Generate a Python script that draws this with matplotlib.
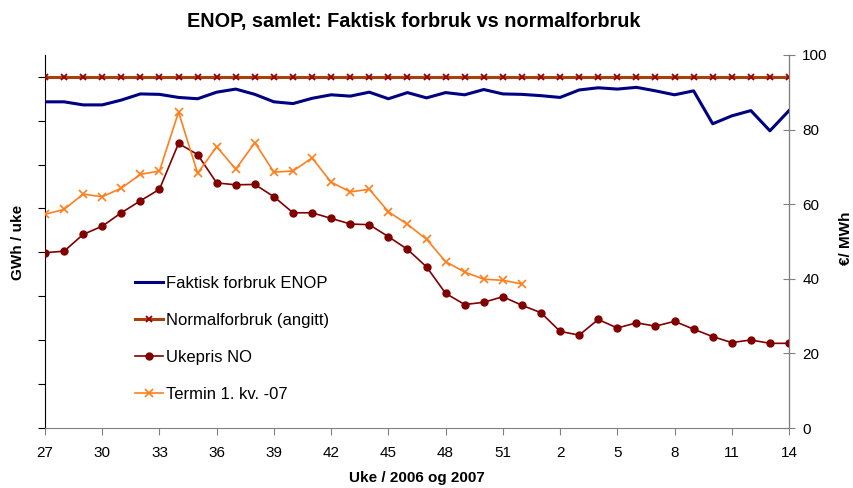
import matplotlib
matplotlib.use("Agg")
import matplotlib.pyplot as plt
from matplotlib.ticker import FixedLocator, NullFormatter

plt.rcParams['font.family'] = ['Liberation Sans', 'DejaVu Sans']

weeks = list(range(27, 53)) + list(range(1, 15))
tick_labels = ['27', '30', '33', '36', '39', '42', '45', '48', '51', '2', '5', '8', '11', '14']

faktisk = [7.43, 7.43, 7.36, 7.36, 7.47, 7.61, 7.60, 7.53, 7.50, 7.65,
           7.72, 7.60, 7.43, 7.39, 7.51, 7.59, 7.56, 7.65, 7.50, 7.64,
           7.52, 7.64, 7.59, 7.71, 7.61, 7.60, 7.57, 7.53, 7.70, 7.75,
           7.72, 7.76, 7.68, 7.59, 7.68, 6.93, 7.11, 7.23, 6.77, 7.23]
normal = [8.0] * 40
ukepris = [47.0, 47.4, 51.9, 54.1, 57.7, 60.9, 64.0, 76.3, 73.3, 65.7,
           65.2, 65.3, 62.0, 57.7, 57.7, 56.2, 54.7, 54.5, 51.3, 47.9,
           43.2, 36.1, 33.1, 33.7, 35.2, 32.9, 30.9, 25.9, 24.9, 29.1,
           26.8, 28.2, 27.3, 28.6, 26.5, 24.5, 22.9, 23.6, 22.7, 22.7]
termin = [57.3, 58.6, 62.7, 62.0, 64.3, 68.0, 68.9, 84.7, 68.3, 75.4,
          69.4, 76.5, 68.6, 68.9, 72.4, 65.9, 63.3, 64.0, 58.0, 54.6,
          50.6, 44.6, 41.8, 39.9, 39.6, 38.6]

x = list(range(len(weeks)))
xt = list(range(len(termin)))

fig = plt.figure(figsize=(8.54, 4.88), dpi=100)
ax = fig.add_axes([45/854, 1-428/488, (789-45)/854, (428-55)/488])
ax2 = ax.twinx()

l1, = ax.plot(x, faktisk, color='#000080', lw=2.2, label='Faktisk forbruk ENOP', zorder=3)
l2, = ax.plot(x, normal, color='#A8400E', lw=2.2, marker='x', ms=4.8, mew=1.3,
              mec='#990000', label='Normalforbruk (angitt)', zorder=3)
l3, = ax2.plot(x, ukepris, color='#800000', lw=1.2, marker='o', ms=5,
               mfc='#800000', mec='#800000', label='Ukepris NO')
l4, = ax2.plot(xt, termin, color='#FF7F1E', lw=1.2, marker='x', ms=5.5, mew=1.2,
               label='Termin 1. kv. -07')

ax.set_xlim(0, len(weeks) - 1)
ax.set_ylim(0, 373/43.9)
ax2.set_ylim(0, 100)

tick_pos = [weeks.index(int(t)) if int(t) >= 27 else 26 + int(t) - 1 for t in tick_labels]
ax.set_xticks(tick_pos)
ax.set_xticklabels(tick_labels, fontsize=11)
ax.yaxis.set_major_locator(FixedLocator(list(range(0, 9))))
ax.yaxis.set_major_formatter(NullFormatter())
ax2.set_yticks([0, 20, 40, 60, 80, 100])
ax2.set_yticklabels(['0', '20', '40', '60', '80', '100'], fontsize=11)

for a in (ax, ax2):
    a.spines['top'].set_visible(False)
ax.spines['left'].set_color('black')
ax.spines['bottom'].set_color('#808080')
ax2.spines['right'].set_color('#808080')
ax2.spines['left'].set_visible(False)
ax2.spines['bottom'].set_visible(False)
ax.tick_params(axis='y', direction='out', length=5, color='black')
ax.tick_params(axis='x', direction='out', length=5, color='#808080', pad=8)
ax2.tick_params(axis='y', direction='inout', length=9, color='#808080', pad=5)

fig.text(18/854, 1-242/488, 'GWh / uke', rotation=90, ha='center', va='center',
         fontsize=11, fontweight='bold')
fig.text(846/854, 1-238/488, '€/ MWh', rotation=90, ha='center', va='center',
         fontsize=11, fontweight='bold')
ax.set_xlabel('Uke / 2006 og 2007', fontsize=11, fontweight='bold', labelpad=8)
fig.text(414/854, 1-22/488, 'ENOP, samlet: Faktisk forbruk vs normalforbruk',
         ha='center', va='center', fontsize=14.3, fontweight='bold')

leg = ax2.legend(handles=[l1, l2, l3, l4], loc='upper left',
                 bbox_to_anchor=(128/854, 1-269/488), bbox_transform=fig.transFigure,
                 frameon=False, fontsize=12, handlelength=1.7, handletextpad=0.2,
                 labelspacing=1.33, borderaxespad=0)

fig.savefig('out.png', dpi=100)
